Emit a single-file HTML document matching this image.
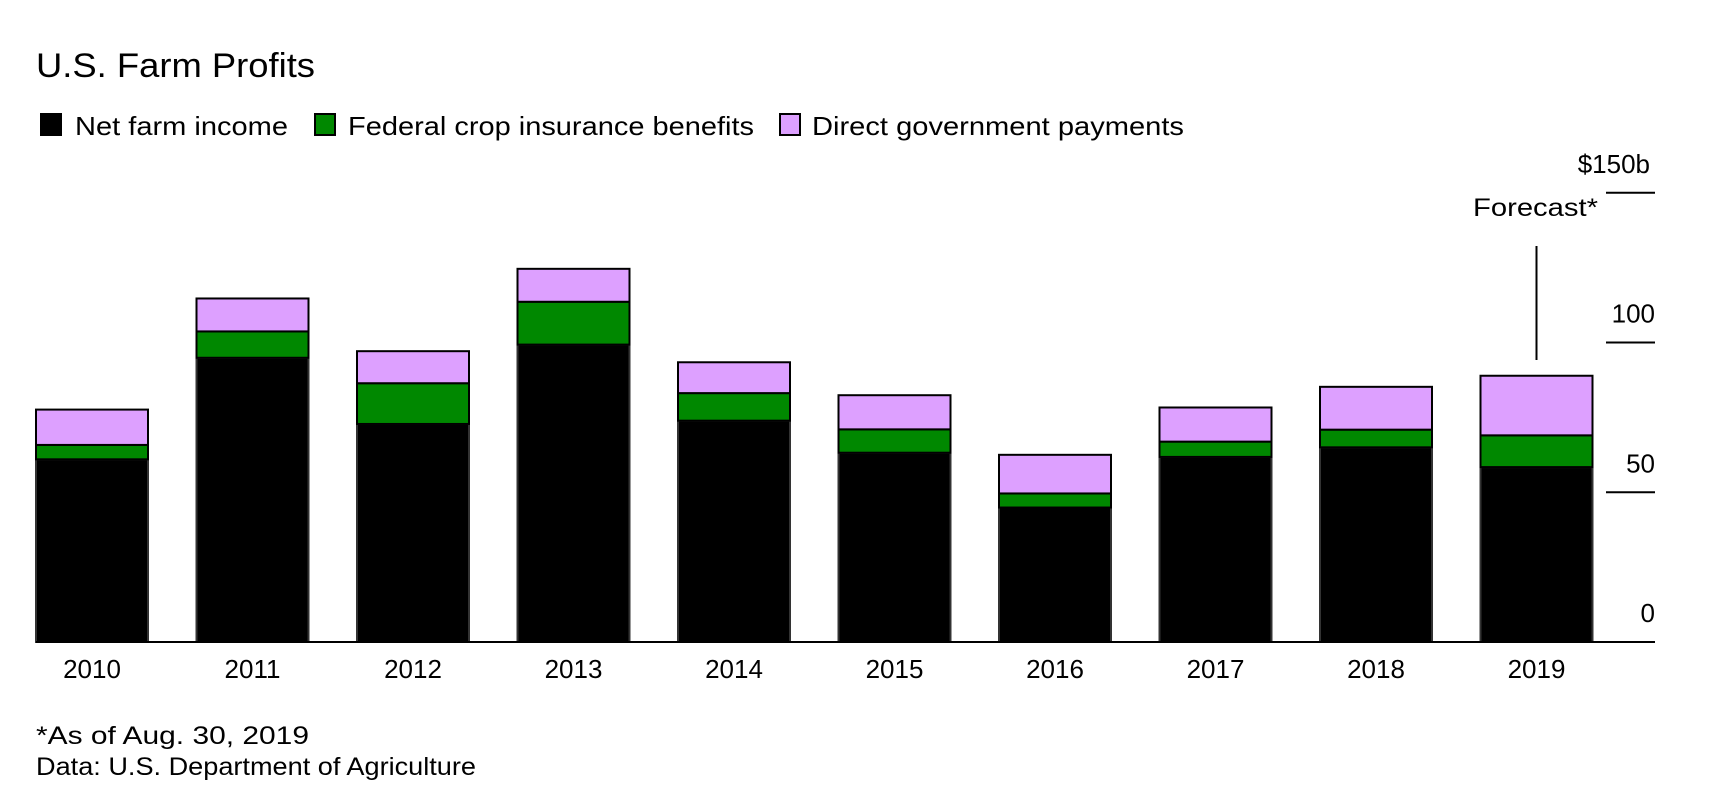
<!DOCTYPE html>
<html><head><meta charset="utf-8"><style>
html,body{margin:0;padding:0;background:#fff;width:1716px;height:792px;overflow:hidden}
svg text{font-family:"Liberation Sans",sans-serif;fill:#000}
</style></head><body>
<svg width="1716" height="792">
<text x="36" y="77" font-size="34" textLength="279" lengthAdjust="spacingAndGlyphs">U.S. Farm Profits</text>
<g>
<rect x="41" y="114" width="20" height="21" fill="#000" stroke="#000" stroke-width="2"/>
<text x="75" y="135" font-size="26" textLength="213" lengthAdjust="spacingAndGlyphs">Net farm income</text>
<rect x="315" y="114" width="20" height="21" fill="#008800" stroke="#000" stroke-width="2"/>
<text x="348" y="135" font-size="26" textLength="406" lengthAdjust="spacingAndGlyphs">Federal crop insurance benefits</text>
<rect x="780" y="114" width="20" height="21" fill="#dda0ff" stroke="#000" stroke-width="2"/>
<text x="812" y="135" font-size="26" textLength="372" lengthAdjust="spacingAndGlyphs">Direct government payments</text>
</g>
<g id="plot"></g>
<text x="1473" y="216" font-size="25" textLength="125" lengthAdjust="spacingAndGlyphs">Forecast*</text>
<text x="36" y="744" font-size="25" textLength="273" lengthAdjust="spacingAndGlyphs">*As of Aug. 30, 2019</text>
<text x="36" y="775" font-size="25" textLength="440" lengthAdjust="spacingAndGlyphs">Data: U.S. Department of Agriculture</text>
</svg>
<script>
const years = ["2010","2011","2012","2013","2014","2015","2016","2017","2018","2019"];
const netIncome = [61.0,94.9,72.8,99.3,73.9,63.2,44.9,61.8,65.0,58.4];
const cropInsurance = [4.8,8.8,13.6,14.3,9.2,7.8,4.7,5.1,5.9,10.6];
const directPayments = [11.8,11.0,10.7,11.0,10.3,11.4,12.9,11.4,14.3,19.9];
const yTicks = [0,50,100,150];
const yTickLabels = ["0","50","100","$150b"];

const NS="http://www.w3.org/2000/svg";
const g=document.getElementById('plot');
const base=642, pxPer=2.995, x0=36, step=160.5, bw=112;
const y=v=>base-v*pxPer;
const xb=i=>x0+i*step;
function mk(tag,attrs){const e=document.createElementNS(NS,tag);for(const k in attrs)e.setAttribute(k,attrs[k]);g.appendChild(e);return e;}

yTicks.forEach((t,i)=>{
  const ln=mk('line',{x1:1606,x2:1655,y1:y(t),y2:y(t),stroke:'#000','stroke-width':2});
  
  
  const tx=mk('text',{x:i==3?1650:1655,y:y(t)-20,'font-size':26,'text-anchor':'end'});
  tx.textContent=yTickLabels[i];
  
  
});

years.forEach((yr,i)=>{
  const x=xb(i);
  const a=netIncome[i], b=cropInsurance[i], c=directPayments[i];
  const segs=[[0,a,'#000','net'],[a,a+b,'#008800','insurance'],[a+b,a+b+c,'#dda0ff','direct']];
  segs.forEach(s=>{
    const r=mk('rect',{x:x,y:y(s[1]),width:bw,height:y(s[0])-y(s[1]),fill:s[2],stroke:s[3]=='net'?'#333':'#000','stroke-width':2});
    
    
  });
  const t=mk('text',{x:x+bw/2,y:678,'font-size':26,'text-anchor':'middle'});
  t.textContent=yr;
  
  
});

const ax=mk('line',{x1:36,x2:1655,y1:base,y2:base,stroke:'#000','stroke-width':2});


const last=years.length-1;
const fl=mk('line',{x1:xb(last)+bw/2,x2:xb(last)+bw/2,y1:246,y2:360,stroke:'#000','stroke-width':2});


</script>
</body></html>
